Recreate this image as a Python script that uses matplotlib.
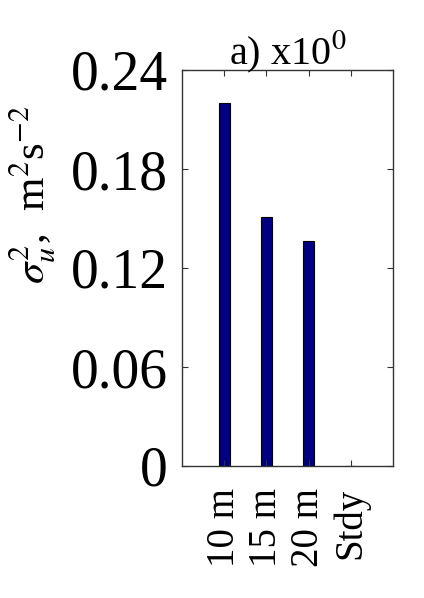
import matplotlib
matplotlib.use('Agg')
import matplotlib.pyplot as plt
import numpy as np

plt.rcParams['font.family'] = ['Liberation Serif', 'DejaVu Serif']
plt.rcParams['mathtext.fontset'] = 'stix'

# data
cats = ['10 m', '15 m', '20 m', 'Stdy']
vals = [0.2202, 0.1511, 0.1365, 0.0]
yticks = [0, 0.06, 0.12, 0.18, 0.24]
ytick_labels = ['0', '0.06', '0.12', '0.18', '0.24']

fig = plt.figure(figsize=(4.24, 5.98), dpi=100)
ax = fig.add_axes([182/424, 1-466/598, (393-182)/424, (466-70)/598])

x = np.arange(1, len(cats)+1)
ax.bar(x, vals, width=0.26, color='#000080', edgecolor='black', linewidth=0.8)

ax.set_xlim(0, 5)
ax.set_ylim(0, 0.24)
ax.set_xticks(x)
ax.set_xticklabels(cats, rotation=90, fontsize=28)
ax.set_yticks(yticks)
ax.set_yticklabels(ytick_labels, fontsize=40)
ax.tick_params(direction='in', top=True, right=True, length=4, width=0.8, color='#333333')
ax.tick_params(axis='x', pad=16)
ax.tick_params(axis='y', pad=10)
for s in ax.spines.values():
	s.set_linewidth(1.0)
	s.set_color('#333333')

ax.set_title(r'a) x10$^0$', fontsize=29, pad=4)
fig.text(32/424, 1-195/598, r'$\sigma_u^2$,  m$^2$s$^{-2}$', rotation=90,
	fontsize=31, ha='center', va='center')

fig.savefig('out.png', dpi=100)
